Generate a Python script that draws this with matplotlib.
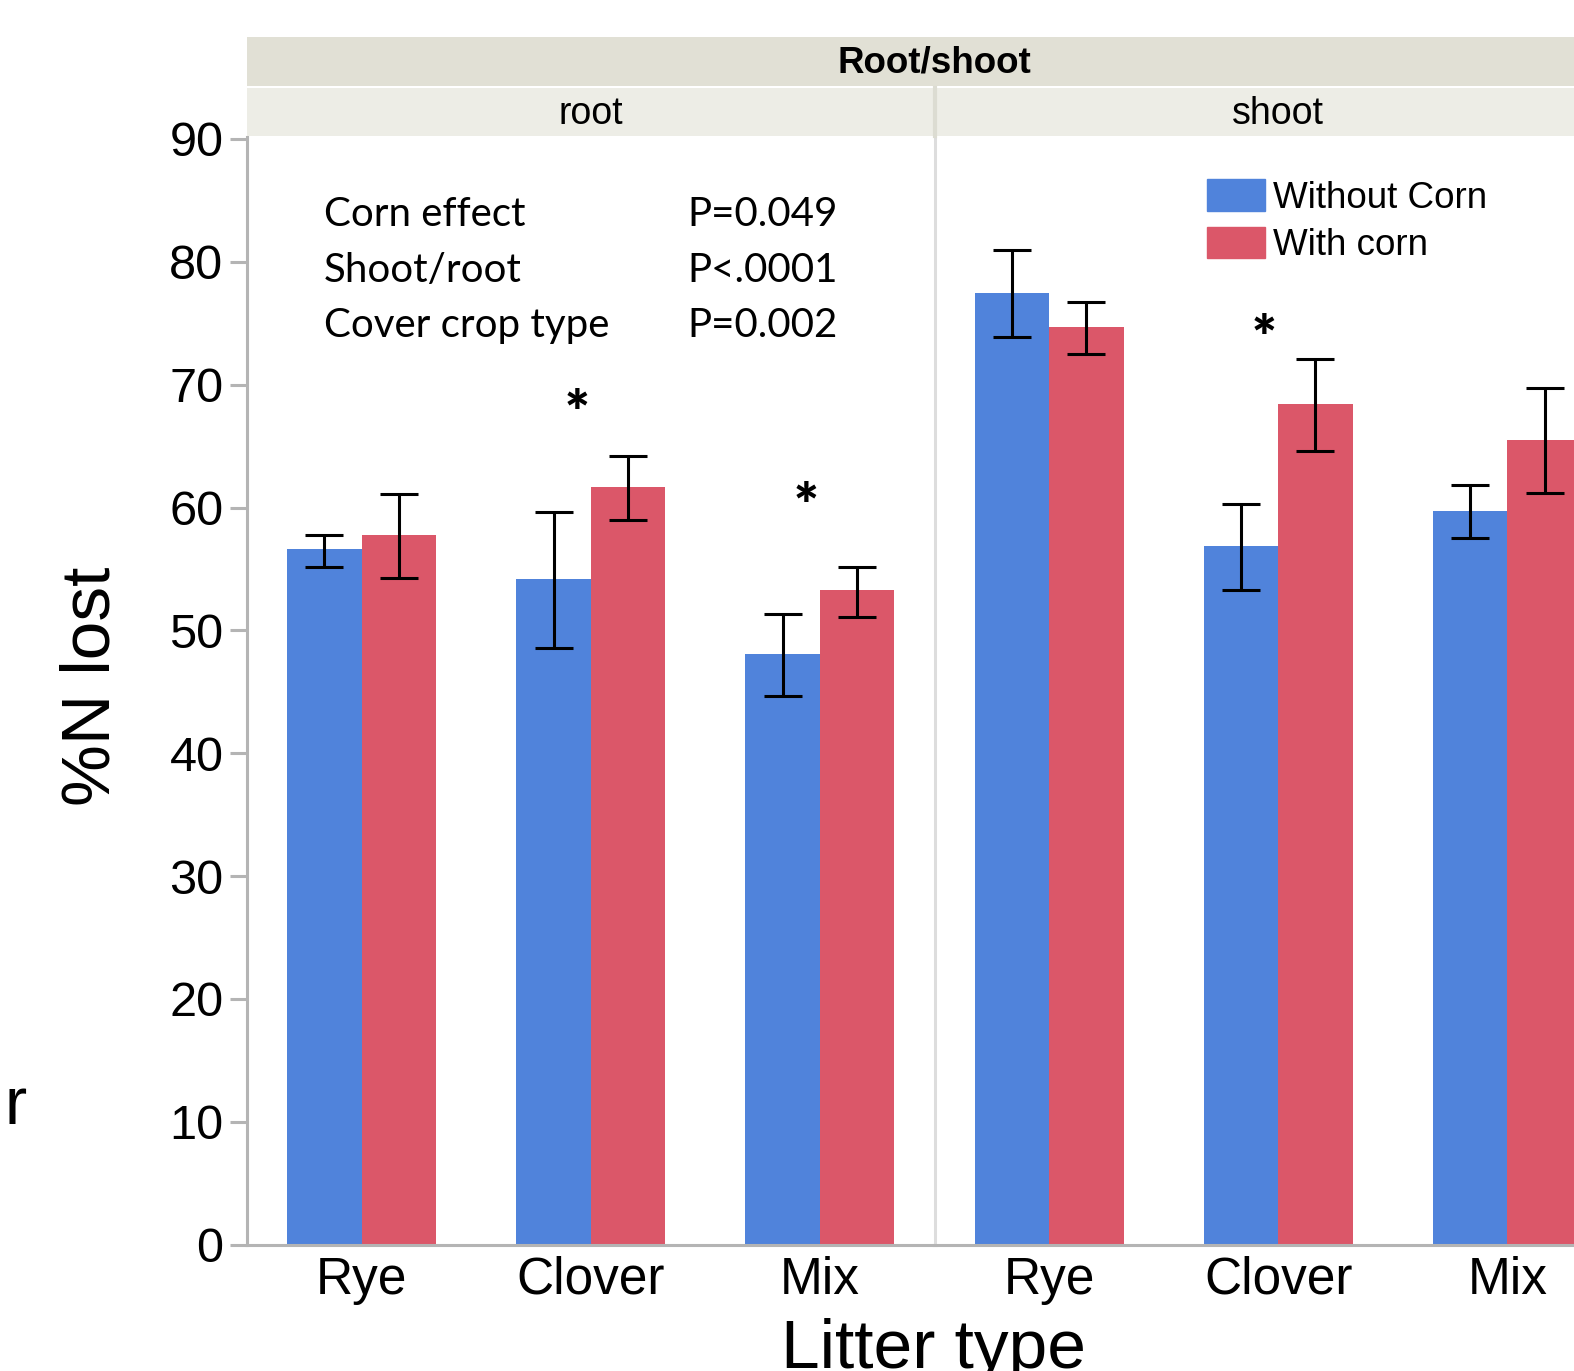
import matplotlib
matplotlib.use("Agg")
import matplotlib.pyplot as plt
import numpy as np

# Litter categories and treatment series
litter = ["Rye", "Clover", "Mix"]
parts = ["root", "shoot"]

# Mean %N lost, per part, per litter type
without_corn = {"root": [56.6, 54.2, 48.1], "shoot": [77.5, 56.9, 59.7]}
with_corn = {"root": [57.8, 61.7, 53.3], "shoot": [74.7, 68.4, 65.5]}

# Error bar spreads below / above the mean
without_err_lo = {"root": [1.4, 5.6, 3.4], "shoot": [3.6, 3.6, 2.2]}
without_err_hi = {"root": [1.2, 5.4, 3.2], "shoot": [3.5, 3.4, 2.1]}
with_err_lo = {"root": [3.5, 2.7, 2.2], "shoot": [2.2, 3.8, 4.3]}
with_err_hi = {"root": [3.3, 2.5, 1.9], "shoot": [2.0, 3.7, 4.2]}

# Significant corn effect markers: (part, category index, height)
stars = [("root", 1, 67.5), ("root", 2, 59.9), ("shoot", 1, 73.6)]

stats_labels = ["Corn effect", "Shoot/root", "Cover crop type"]
stats_values = ["P=0.049", "P<.0001", "P=0.002"]

BLUE = "#5083DB"
RED = "#DB5769"
GREY = "#B4B4B4"
SANS = ["Liberation Sans", "DejaVu Sans"]

W, H = 1574, 1371
fig = plt.figure(figsize=(W / 100, H / 100), dpi=100)


def fx(px):
    return px / W


def fy(py):
    return 1 - py / H


left, right_root, bottom, top = 247, 934.5, 1244.7, 136.5
pw = right_root - left
axes = {}
for i, part in enumerate(parts):
    ax = fig.add_axes([fx(left + i * pw), fy(bottom), fx(pw), fy(top) - fy(bottom)])
    axes[part] = ax
    x = np.arange(len(litter))
    bw = 0.325
    ax.bar(x - bw / 2, without_corn[part], bw, color=BLUE, zorder=2)
    ax.bar(x + bw / 2, with_corn[part], bw, color=RED, zorder=2)
    ax.errorbar(x - bw / 2, without_corn[part],
                yerr=[without_err_lo[part], without_err_hi[part]],
                fmt="none", ecolor="black", elinewidth=2.2, capsize=13.5,
                capthick=2.2, zorder=3)
    ax.errorbar(x + bw / 2, with_corn[part],
                yerr=[with_err_lo[part], with_err_hi[part]],
                fmt="none", ecolor="black", elinewidth=2.2, capsize=13.5,
                capthick=2.2, zorder=3)
    ax.set_xlim(-0.5, 2.5)
    ax.set_ylim(0, 90.2)
    ax.set_xticks(x)
    ax.set_xticklabels(litter, fontsize=37, family=SANS)
    ax.tick_params(axis="x", length=0, pad=8)
    for s in ["top", "right"]:
        ax.spines[s].set_visible(False)
    ax.spines["bottom"].set_color(GREY)
    ax.spines["bottom"].set_linewidth(2.2)
    if i == 0:
        ax.spines["left"].set_color(GREY)
        ax.spines["left"].set_linewidth(2.2)
        ax.set_yticks(range(0, 91, 10))
        ax.set_yticklabels([str(v) for v in range(0, 91, 10)], fontsize=35,
                           family=SANS)
        ax.tick_params(axis="y", length=12, width=2.2, color=GREY, pad=5)
    else:
        ax.spines["left"].set_color("#DDDDDD")
        ax.spines["left"].set_linewidth(2.2)
        ax.set_yticks([])

# significance asterisks
for part, idx, yv in stars:
    axes[part].text(idx - 0.06, yv, "*", fontsize=42, ha="center",
                    va="center", family="Lato", fontweight="heavy")

# model p-values block
for k, (lab, val) in enumerate(zip(stats_labels, stats_values)):
    yv = 82.9 - k * 4.53
    axes["root"].text(-0.163, yv, lab, fontsize=29, family="Lato",
                      va="baseline", ha="left")
    axes["root"].text(1.423, yv, val, fontsize=29, family="Lato",
                      va="baseline", ha="left")

# legend
h1 = plt.Rectangle((0, 0), 1, 1, color=BLUE)
h2 = plt.Rectangle((0, 0), 1, 1, color=RED)
fig.legend([h1, h2], ["Without Corn", "With corn"], loc="upper left",
           bbox_to_anchor=(fx(1207), fy(179)), frameon=False,
           prop={"family": SANS, "size": 26.5}, handlelength=1.58,
           handleheight=0.95, handletextpad=0.2, labelspacing=0.3,
           borderpad=0, borderaxespad=0)

# facet header strips
strip_top = fig.add_axes([fx(left), fy(85.5), fx(2 * pw), fy(37) - fy(85.5)])
strip_top.set_facecolor("#E1E0D5")
strip_top.set_xticks([])
strip_top.set_yticks([])
for s in strip_top.spines.values():
    s.set_visible(False)
fig.text(fx(left + pw), fy(63), "Root/shoot", fontsize=26.5, fontweight="bold",
         family=SANS, ha="center", va="center")

for i, part in enumerate(parts):
    sax = fig.add_axes([fx(left + i * pw), fy(135.5), fx(pw), fy(87.5) - fy(135.5)])
    sax.set_facecolor("#EDEDE6")
    sax.set_xticks([])
    sax.set_yticks([])
    for s in sax.spines.values():
        s.set_visible(False)
    if i == 1:
        sax.spines["left"].set_visible(True)
        sax.spines["left"].set_color("#DCDCD2")
        sax.spines["left"].set_linewidth(3)
    fig.text(fx(left + i * pw + pw / 2), fy(114), part, fontsize=27,
             family=SANS, ha="center", va="center")

# axis titles
fig.text(fx(92), fy(686), "%N lost", fontsize=50, family=SANS, rotation=90,
         ha="center", va="center")
fig.text(fx(934), 0.002, "Litter type", fontsize=50, family=SANS,
         ha="center", va="baseline")
fig.text(fx(16), fy(1107), "r", fontsize=48, family=SANS, ha="center",
         va="center")

fig.savefig("out.png", dpi=100)
